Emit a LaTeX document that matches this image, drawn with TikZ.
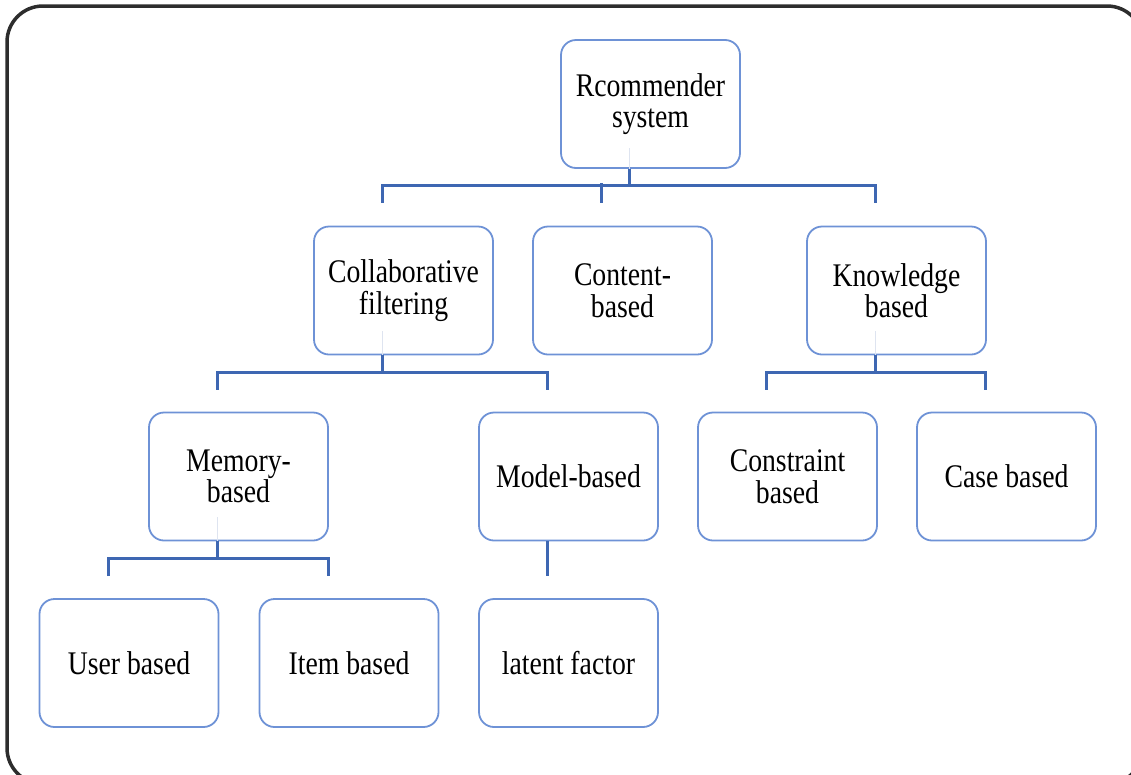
\documentclass[tikz,border=0pt]{standalone}
\usepackage{fontspec}
\setmainfont{Liberation Serif}
\newfontfamily\boxfont[FakeStretch=0.84]{Liberation Serif}
\usetikzlibrary{calc}
\definecolor{boxblue}{RGB}{110,146,214}
\definecolor{linkblue}{RGB}{62,103,178}
\definecolor{ghost}{RGB}{222,228,240}
\definecolor{framegray}{RGB}{45,45,45}

\begin{document}
\begin{tikzpicture}[x=1pt, y=-1pt,
	box/.style = {draw=boxblue, line width=1.8pt, rounded corners=15pt, fill=white,
		minimum width=179pt, minimum height=128pt, inner sep=0pt, align=center,
		font=\boxfont\fontsize{33}{31.5}\selectfont},
	link/.style = {draw=linkblue, line width=3pt},
	faint/.style = {draw=ghost, line width=1.5pt}]
	\useasboundingbox (0,0) rectangle (1131,774);
	\draw [framegray, line width=3.5pt, rounded corners=36pt] (7,6) rectangle (1143,784);
	% level 0
	\node [box] (root) at (650.5,104) {Rcommender\\system};
	% level 1
	\node [box] (coll) at (403.5,290.5) {Collaborative\\filtering};
	\node [box] (cont) at (622.5,290.5) {Content-\\based};
	\node [box] (know) at (896.5,290.5) {Knowledge\\based};
	% level 2
	\node [box] (mem) at (238.5,476.5) {Memory-\\based};
	\node [box] (model) at (568.5,476.5) {Model-based};
	\node [box] (cons) at (787.5,476.5) {Constraint\\based};
	\node [box] (case) at (1006.5,476.5) {Case based};
	% level 3
	\node [box] (user) at (129,663) {User based};
	\node [box] (item) at (349,663) {Item based};
	\node [box] (latent) at (568.5,663) {latent factor};
	%faint stubs inside the parents
	\draw [faint] ($(root.south)+(-21,0)$) -- ++(0,-21);
	\draw [faint] ($(coll.south)+(-21,0)$) -- ++(0,-24);
	\draw [faint] ($(know.south)+(-21,0)$) -- ++(0,-24);
	\draw [faint] ($(mem.south)+(-21,0)$) -- ++(0,-24);
	% connectors
	\draw [link] ($(root.south)+(-21,0)$) -- ++(0,18.5);
	\draw [link] ($(coll.north)+(-21,-23)$) |- ($(root.south)+(-21,17)$) -| ($(know.north)+(-21,-23)$);
	\draw [link] ($(cont.north)+(-21,-23)$) -- ++(0,-19.5);
	\draw [link] ($(coll.south)+(-21,0)$) -- ++(0,18.5);
	\draw [link] ($(mem.north)+(-21,-22)$) |- ($(coll.south)+(-21,17)$) -| ($(model.north)+(-21,-22)$);
	\draw [link] ($(know.south)+(-21,0)$) -- ++(0,18.5);
	\draw [link] ($(cons.north)+(-21,-22)$) |- ($(know.south)+(-21,17)$) -| ($(case.north)+(-21,-22)$);
	\draw [link] ($(mem.south)+(-21,0)$) -- ++(0,18.5);
	\draw [link] ($(user.north)+(-21,-22)$) |- ($(mem.south)+(-21,17)$) -| ($(item.north)+(-21,-22)$);
	\draw [link] ($(model.south)+(-21,0)$) -- ($(latent.north)+(-21,-22)$);
\end{tikzpicture}
\end{document}
